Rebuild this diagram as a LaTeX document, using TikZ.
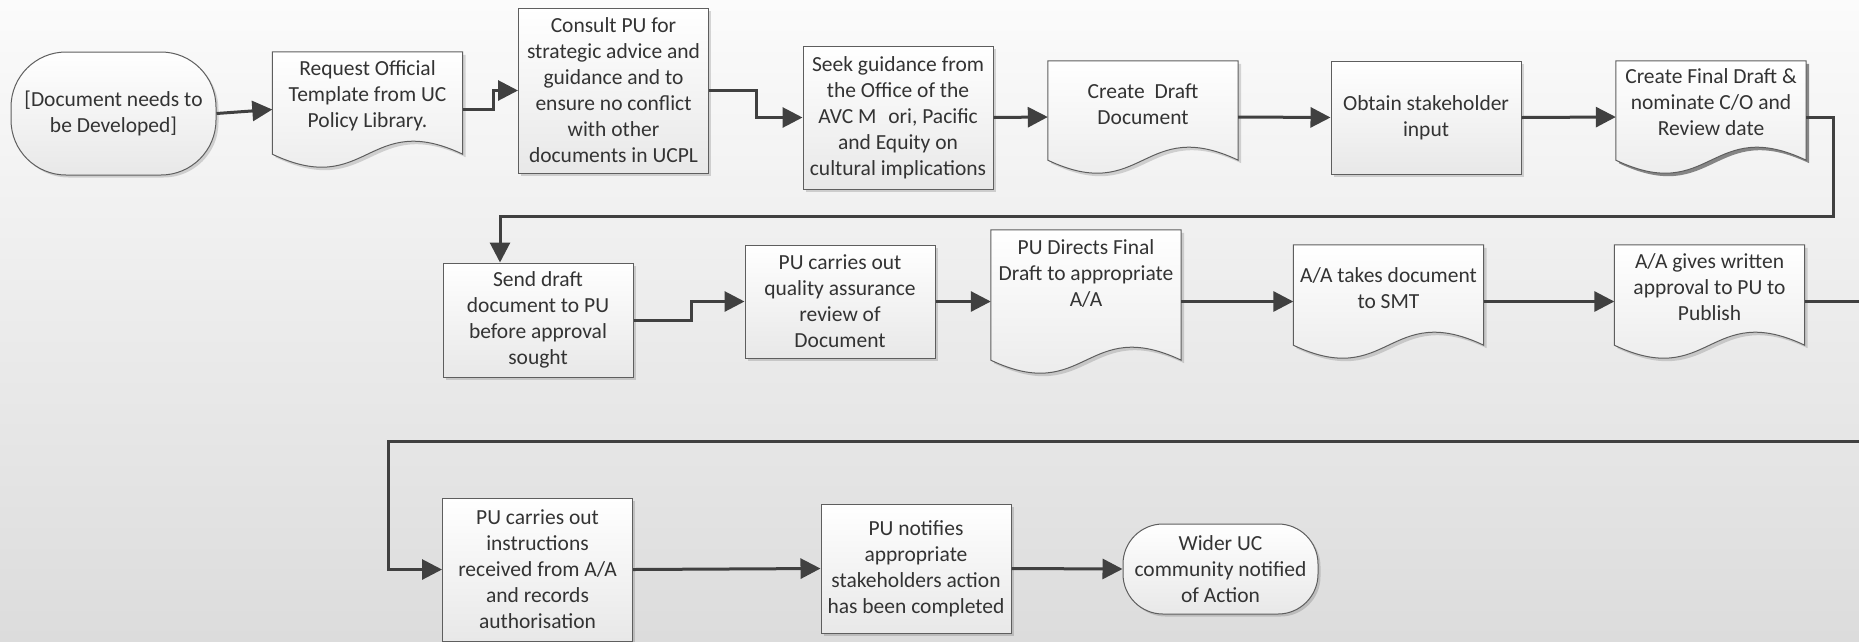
\documentclass[tikz,border=0pt]{standalone}
\usepackage{fontspec}
\setmainfont{Carlito}
\usetikzlibrary{arrows.meta,calc,shadows}
\pgfdeclarelayer{back}
\pgfdeclarelayer{bg}
\pgfsetlayers{back,bg,main}
\definecolor{linec}{HTML}{404040}
\definecolor{edgec}{HTML}{5E5E5E}
\definecolor{txtc}{HTML}{333333}
\definecolor{boxbot}{HTML}{E8E8E8}
\definecolor{bgtop}{HTML}{FBFBFB}
\definecolor{bgbot}{HTML}{DCDCDC}
\tikzset{
  lbl/.style={text=txtc, align=center, font=\fontsize{21.5}{26}\selectfont, inner sep=0pt},
  procbox/.style={lbl, draw=edgec, line width=1pt, top color=white, bottom color=boxbot,
    minimum width=190pt, drop shadow={shadow xshift=2.5pt, shadow yshift=-2.5pt, fill=black, opacity=0.15}},
  termbox/.style={procbox, rounded corners=#1},
  docnode/.style={draw=none, inner sep=0pt, minimum width=190pt},
  docfill/.style={draw=edgec, line width=1pt, top color=white, bottom color=boxbot},
  conn/.style={draw=linec, line width=3pt, -{Triangle[length=20pt,width=20pt]}},
  plainconn/.style={draw=linec, line width=3pt}
}
\newcommand\docshape[2]{%
  \fill[black, opacity=#2, transform canvas={xshift=3pt,yshift=-3pt}]
    (#1.north west) -- (#1.north east) -- ([yshift=13pt]#1.south east)
    .. controls ([yshift=58pt]#1.south) and ([yshift=-32pt]#1.south) .. ([yshift=13pt]#1.south west) -- cycle;
  \draw[docfill]
    (#1.north west) -- (#1.north east) -- ([yshift=13pt]#1.south east)
    .. controls ([yshift=58pt]#1.south) and ([yshift=-32pt]#1.south) .. ([yshift=13pt]#1.south west) -- cycle;
}
\begin{document}
\begin{tikzpicture}[x=1pt,y=-1pt]
\useasboundingbox (0,0) rectangle (1859,641);
\begin{pgfonlayer}{back}
  \shade[top color=bgtop, bottom color=bgbot] (0,0) rectangle (1859,641);
\end{pgfonlayer}

% Row 1
\node[termbox=55pt, minimum width=205pt, minimum height=123pt] (start) at (113.5,113.5) {[Document needs to\\be Developed]};
\node[docnode, minimum height=115pt, label={[lbl,yshift=14pt]center:{Request Official\\Template from UC\\Policy Library.}}] (req) at (367.5,109.5) {};
\node[procbox, minimum height=165pt] (cons) at (613.5,90.5) {Consult PU for\\strategic advice and\\guidance and to\\ensure no conflict\\with other\\documents in UCPL};
\node[procbox, minimum height=143pt] (seek) at (898,117.5) {Seek guidance from\\the Office of the\\AVC M\hspace{0.55em}ori, Pacific\\and Equity on\\cultural implications};
\node[docnode, minimum height=112pt, label={[lbl,yshift=13pt]center:{Create\ \ Draft\\Document}}] (draft) at (1143,117) {};
\node[procbox, minimum height=113pt] (obt) at (1426,117.5) {Obtain stakeholder\\input};
\node[docnode, minimum height=112pt, label={[lbl,yshift=15pt]center:{Create Final Draft \&\\nominate C/O and\\Review date}}] (final) at (1711,117) {};

% Row 2
\node[procbox, minimum height=114pt] (send) at (538,320) {Send draft\\document to PU\\before approval\\sought};
\node[procbox, minimum height=113pt] (qa) at (840,301.5) {PU carries out\\quality assurance\\review of\\Document};
\node[docnode, minimum height=143pt, label={[lbl,yshift=28pt]center:{PU Directs Final\\Draft to appropriate\\A/A}}] (pud) at (1086,301.5) {};
\node[docnode, minimum height=113pt, label={[lbl,yshift=13pt]center:{A/A takes document\\to SMT}}] (aat) at (1388.5,301.5) {};
\node[docnode, minimum height=113pt, label={[lbl,yshift=14pt]center:{A/A gives written\\approval to PU to\\Publish}}] (aag) at (1709.5,301.5) {};

% Row 3
\node[procbox, minimum height=143pt] (pui) at (537.5,569.5) {PU carries out\\instructions\\received from A/A\\and records\\authorisation};
\node[procbox, minimum height=129pt] (pun) at (916,568.5) {PU notifies\\appropriate\\stakeholders action\\has been completed};
\node[termbox=40pt, minimum width=195pt, minimum height=90pt] (wider) at (1220.5,569) {Wider UC\\community notified\\of Action};

\begin{pgfonlayer}{bg}
  \docshape{req}{0.15}
  \docshape{draft}{0.15}
  \docshape{final}{0.45}
  \docshape{pud}{0.15}
  \docshape{aat}{0.15}
  \docshape{aag}{0.15}
\end{pgfonlayer}

\coordinate (t1) at (1833,216);
\coordinate (t2) at (500,216);
\coordinate (r1) at (1880,301.5);
\coordinate (r2) at (1880,441);
\coordinate (r3) at (388,441);

% Connectors
\draw[conn] (start.east) -- (req.west);
\draw[conn] (req.east) -- ++(31,0) |- (cons.west);
\draw[conn] (cons.east) -- ++(47,0) |- (seek.west);
\draw[conn] (seek.east) -- (draft.west);
\draw[conn] (draft.east) -- (obt.west);
\draw[conn] (obt.east) -- (final.west);
\draw[conn] (final.east) -| (t1) -- (t2) -- (t2 |- send.north);
\draw[conn] (send.east) -- ++(58,0) |- (qa.west);
\draw[conn] (qa.east) -- (pud.west);
\draw[conn] (pud.east) -- (aat.west);
\draw[conn] (aat.east) -- (aag.west);
\begin{scope}
  \clip (0,0) rectangle (1859,641);
  \draw[conn] (aag.east) -- (r1) -- (r2) -- (r3) |- (pui.west);
\end{scope}
\draw[conn] (pui.east) -- (pun.west);
\draw[conn] (pun.east) -- (wider.west);
\end{tikzpicture}
\end{document}
